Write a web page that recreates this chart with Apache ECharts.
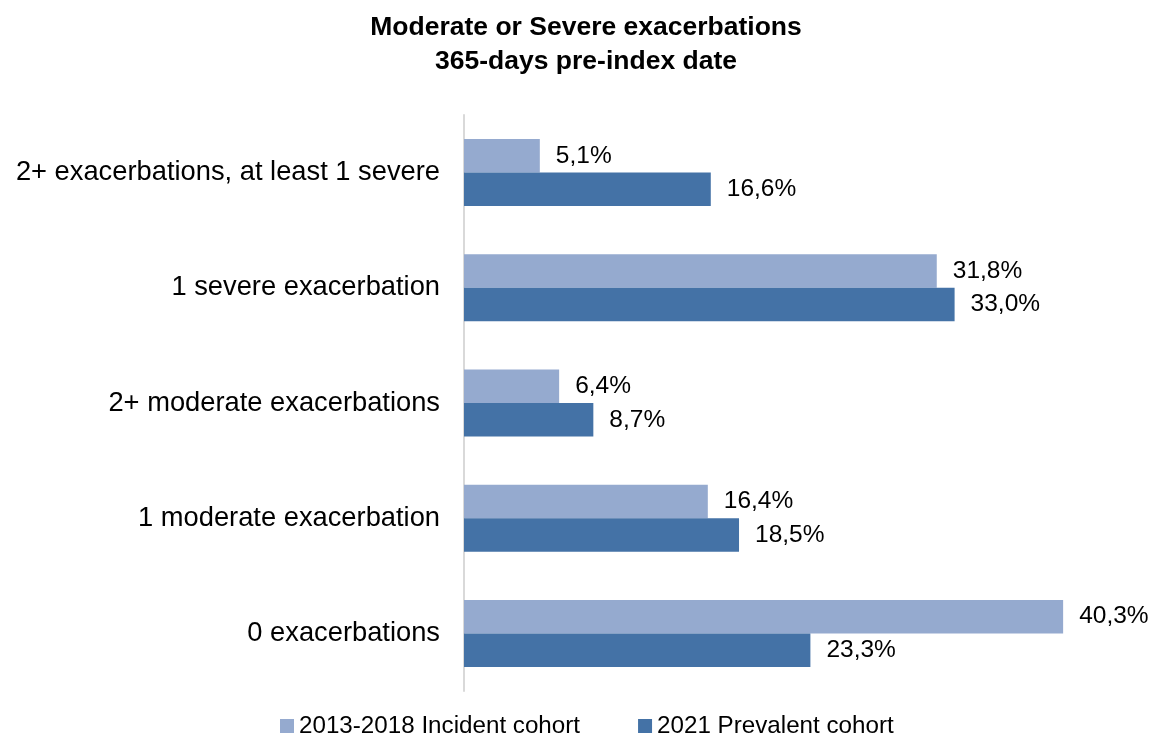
<!DOCTYPE html>
<html>
<head>
<meta charset="utf-8">
<title>Moderate or Severe exacerbations</title>
<script src="https://cdn.jsdelivr.net/npm/echarts@6/dist/echarts.min.js"></script>
<style>
  html, body { margin: 0; padding: 0; background: #fff; }
  #main { width: 1150px; height: 733px; }
</style>
</head>
<body>
<div id="main"></div>
<script>
// categories top to bottom
const categories = [
  '2+ exacerbations, at least 1 severe',
  '1 severe exacerbation',
  '2+ moderate exacerbations',
  '1 moderate exacerbation',
  '0 exacerbations'
]
const seriesNames = ['2013-2018 Incident cohort', '2021 Prevalent cohort']
const incidentValues = [5.1, 31.8, 6.4, 16.4, 40.3]
const prevalentValues = [16.6, 33.0, 8.7, 18.5, 23.3]

const FONT = "'Liberation Sans', Arial, sans-serif"

const fmt = p => p.value.toFixed(1).replace('.', ',') + '%'

const chart = echarts.init(document.getElementById('main'))

const option = {
  color: ['#95AACF', '#4472A6'],
  textStyle: { fontFamily: FONT },
  title: {
    text: 'Moderate or Severe exacerbations\n365-days pre-index date',
    left: 581,
    textAlign: 'center',
    top: 6,
    textStyle: {
      fontFamily: FONT,
      fontSize: 26.5,
      fontWeight: 'bold',
      color: '#000',
      lineHeight: 34
    }
  },
  legend: {
    data: seriesNames,
    top: 709,
    left: 275,
    icon: 'rect',
    itemWidth: 14,
    itemHeight: 14,
    itemGap: 58,
    textStyle: { fontFamily: FONT, fontSize: 24.2, color: '#000' }
  },
  grid: {
    left: 464,
    width: 669,
    top: 115,
    bottom: 42,
    containLabel: false
  },
  xAxis: {
    type: 'value',
    min: 0,
    max: 45,
    show: false,
    splitLine: { show: false }
  },
  yAxis: {
    type: 'category',
    data: categories,
    inverse: true,
    axisLine: { show: true, lineStyle: { color: '#D9D9D9', width: 2 } },
    axisTick: { show: false },
    axisLabel: { fontFamily: FONT, fontSize: 27.3, color: '#000', margin: 24 }
  },
  series: [
    {
      name: seriesNames[0],
      type: 'bar',
      data: incidentValues,
      barWidth: 33.5,
      barGap: '0%',
      label: { show: true, position: 'right', distance: 16, formatter: fmt, fontFamily: FONT, fontSize: 24.5, color: '#000' }
    },
    {
      name: seriesNames[1],
      type: 'bar',
      data: prevalentValues,
      barWidth: 33.5,
      barGap: '0%',
      label: { show: true, position: 'right', distance: 16, formatter: fmt, fontFamily: FONT, fontSize: 24.5, color: '#000' }
    }
  ]
}

chart.setOption(option)
</script>
</body>
</html>
